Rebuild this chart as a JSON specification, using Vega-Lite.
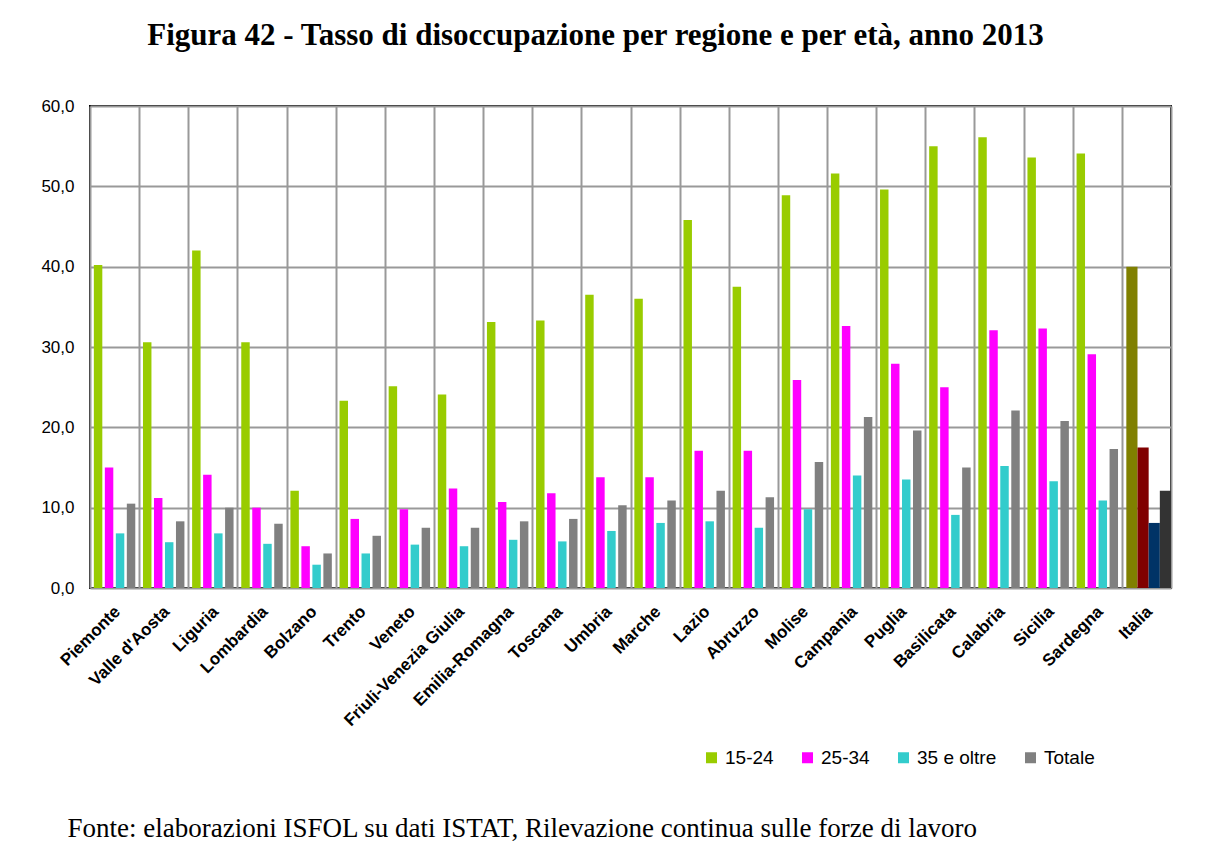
{
  "$schema": "https://vega.github.io/schema/vega-lite/v6.json",
  "width": 1081,
  "height": 482,
  "autosize": "none",
  "padding": {"left": 90, "top": 106, "right": 54, "bottom": 274},
  "background": "white",
  "title": {
    "text": "Figura 42 - Tasso di disoccupazione per regione e per età, anno 2013",
    "font": "Liberation Serif",
    "fontSize": 31,
    "fontWeight": "bold",
    "color": "black",
    "anchor": "middle",
    "dx": -35,
    "offset": 45
  },
  "config": {"view": {"stroke": "black", "strokeWidth": 2}},
  "data": {
    "values": [
      {"r": "Piemonte", "g": "15-24", "v": 40.2}, {"r": "Piemonte", "g": "25-34", "v": 15.0}, {"r": "Piemonte", "g": "35 e oltre", "v": 6.8}, {"r": "Piemonte", "g": "Totale", "v": 10.5},
      {"r": "Valle d'Aosta", "g": "15-24", "v": 30.6}, {"r": "Valle d'Aosta", "g": "25-34", "v": 11.2}, {"r": "Valle d'Aosta", "g": "35 e oltre", "v": 5.7}, {"r": "Valle d'Aosta", "g": "Totale", "v": 8.3},
      {"r": "Liguria", "g": "15-24", "v": 42.0}, {"r": "Liguria", "g": "25-34", "v": 14.1}, {"r": "Liguria", "g": "35 e oltre", "v": 6.8}, {"r": "Liguria", "g": "Totale", "v": 10.0},
      {"r": "Lombardia", "g": "15-24", "v": 30.6}, {"r": "Lombardia", "g": "25-34", "v": 10.0}, {"r": "Lombardia", "g": "35 e oltre", "v": 5.5}, {"r": "Lombardia", "g": "Totale", "v": 8.0},
      {"r": "Bolzano", "g": "15-24", "v": 12.1}, {"r": "Bolzano", "g": "25-34", "v": 5.2}, {"r": "Bolzano", "g": "35 e oltre", "v": 2.9}, {"r": "Bolzano", "g": "Totale", "v": 4.3},
      {"r": "Trento", "g": "15-24", "v": 23.3}, {"r": "Trento", "g": "25-34", "v": 8.6}, {"r": "Trento", "g": "35 e oltre", "v": 4.3}, {"r": "Trento", "g": "Totale", "v": 6.5},
      {"r": "Veneto", "g": "15-24", "v": 25.1}, {"r": "Veneto", "g": "25-34", "v": 9.8}, {"r": "Veneto", "g": "35 e oltre", "v": 5.4}, {"r": "Veneto", "g": "Totale", "v": 7.5},
      {"r": "Friuli-Venezia Giulia", "g": "15-24", "v": 24.1}, {"r": "Friuli-Venezia Giulia", "g": "25-34", "v": 12.4}, {"r": "Friuli-Venezia Giulia", "g": "35 e oltre", "v": 5.2}, {"r": "Friuli-Venezia Giulia", "g": "Totale", "v": 7.5},
      {"r": "Emilia-Romagna", "g": "15-24", "v": 33.1}, {"r": "Emilia-Romagna", "g": "25-34", "v": 10.7}, {"r": "Emilia-Romagna", "g": "35 e oltre", "v": 6.0}, {"r": "Emilia-Romagna", "g": "Totale", "v": 8.3},
      {"r": "Toscana", "g": "15-24", "v": 33.3}, {"r": "Toscana", "g": "25-34", "v": 11.8}, {"r": "Toscana", "g": "35 e oltre", "v": 5.8}, {"r": "Toscana", "g": "Totale", "v": 8.6},
      {"r": "Umbria", "g": "15-24", "v": 36.5}, {"r": "Umbria", "g": "25-34", "v": 13.8}, {"r": "Umbria", "g": "35 e oltre", "v": 7.1}, {"r": "Umbria", "g": "Totale", "v": 10.3},
      {"r": "Marche", "g": "15-24", "v": 36.0}, {"r": "Marche", "g": "25-34", "v": 13.8}, {"r": "Marche", "g": "35 e oltre", "v": 8.1}, {"r": "Marche", "g": "Totale", "v": 10.9},
      {"r": "Lazio", "g": "15-24", "v": 45.8}, {"r": "Lazio", "g": "25-34", "v": 17.1}, {"r": "Lazio", "g": "35 e oltre", "v": 8.3}, {"r": "Lazio", "g": "Totale", "v": 12.1},
      {"r": "Abruzzo", "g": "15-24", "v": 37.5}, {"r": "Abruzzo", "g": "25-34", "v": 17.1}, {"r": "Abruzzo", "g": "35 e oltre", "v": 7.5}, {"r": "Abruzzo", "g": "Totale", "v": 11.3},
      {"r": "Molise", "g": "15-24", "v": 48.9}, {"r": "Molise", "g": "25-34", "v": 25.9}, {"r": "Molise", "g": "35 e oltre", "v": 9.8}, {"r": "Molise", "g": "Totale", "v": 15.7},
      {"r": "Campania", "g": "15-24", "v": 51.6}, {"r": "Campania", "g": "25-34", "v": 32.6}, {"r": "Campania", "g": "35 e oltre", "v": 14.0}, {"r": "Campania", "g": "Totale", "v": 21.3},
      {"r": "Puglia", "g": "15-24", "v": 49.6}, {"r": "Puglia", "g": "25-34", "v": 27.9}, {"r": "Puglia", "g": "35 e oltre", "v": 13.5}, {"r": "Puglia", "g": "Totale", "v": 19.6},
      {"r": "Basilicata", "g": "15-24", "v": 55.0}, {"r": "Basilicata", "g": "25-34", "v": 25.0}, {"r": "Basilicata", "g": "35 e oltre", "v": 9.1}, {"r": "Basilicata", "g": "Totale", "v": 15.0},
      {"r": "Calabria", "g": "15-24", "v": 56.1}, {"r": "Calabria", "g": "25-34", "v": 32.1}, {"r": "Calabria", "g": "35 e oltre", "v": 15.2}, {"r": "Calabria", "g": "Totale", "v": 22.1},
      {"r": "Sicilia", "g": "15-24", "v": 53.6}, {"r": "Sicilia", "g": "25-34", "v": 32.3}, {"r": "Sicilia", "g": "35 e oltre", "v": 13.3}, {"r": "Sicilia", "g": "Totale", "v": 20.8},
      {"r": "Sardegna", "g": "15-24", "v": 54.1}, {"r": "Sardegna", "g": "25-34", "v": 29.1}, {"r": "Sardegna", "g": "35 e oltre", "v": 10.9}, {"r": "Sardegna", "g": "Totale", "v": 17.3},
      {"r": "Italia", "g": "15-24", "v": 40.0}, {"r": "Italia", "g": "25-34", "v": 17.5}, {"r": "Italia", "g": "35 e oltre", "v": 8.1}, {"r": "Italia", "g": "Totale", "v": 12.1}
    ]
  },
  "encoding": {
    "x": {
      "field": "r",
      "type": "nominal",
      "sort": null,
      "scale": {
        "domain": ["Piemonte", "Valle d'Aosta", "Liguria", "Lombardia", "Bolzano", "Trento", "Veneto", "Friuli-Venezia Giulia", "Emilia-Romagna", "Toscana", "Umbria", "Marche", "Lazio", "Abruzzo", "Molise", "Campania", "Puglia", "Basilicata", "Calabria", "Sicilia", "Sardegna", "Italia"],
        "paddingInner": 0,
        "paddingOuter": 0
      },
      "axis": {
        "title": "Fonte: elaborazioni ISFOL su dati ISTAT, Rilevazione continua sulle forze di lavoro",
        "titleFont": "Liberation Serif",
        "titleFontSize": 27,
        "titleFontWeight": "normal",
        "titleColor": "black",
        "titleX": -23,
        "titleY": 248,
        "titleAlign": "left",
        "titleAnchor": "start",
        "titleBaseline": "alphabetic",
        "labelAngle": -45,
        "labelFont": "Liberation Sans",
        "labelFontSize": 17,
        "labelFontWeight": "bold",
        "labelColor": "black",
        "labelPadding": 15,
        "labelOffset": -3,
        "ticks": false,
        "domain": false,
        "grid": true,
        "tickBand": "extent",
        "gridColor": "#999999",
        "gridWidth": 2
      }
    },
    "y": {
      "field": "v",
      "type": "quantitative",
      "scale": {"domain": [0, 60], "nice": false},
      "axis": {
        "title": null,
        "values": [0, 10, 20, 30, 40, 50, 60],
        "labelExpr": "replace(format(datum.value, '.1f'), '.', ',')",
        "labelFont": "Liberation Sans",
        "labelFontSize": 17,
        "labelColor": "black",
        "labelPadding": 16,
        "ticks": false,
        "domain": false,
        "grid": true,
        "gridColor": "#999999",
        "gridWidth": 2
      }
    }
  },
  "layer": [
    {
      "transform": [{"filter": "datum.r !== 'Italia'"}],
      "mark": {"type": "bar"},
      "encoding": {
        "xOffset": {"field": "g", "type": "nominal", "scale": {"paddingInner": 0.23, "paddingOuter": 0.35}},
        "color": {
          "field": "g",
          "type": "nominal",
          "scale": {"domain": ["15-24", "25-34", "35 e oltre", "Totale"], "range": ["#99CC00", "#FF00FF", "#33CCCC", "#808080"]},
          "legend": {
            "title": null,
            "orient": "none",
            "legendX": 612,
            "legendY": 642,
            "direction": "horizontal",
            "symbolType": "square",
            "symbolSize": 121,
            "symbolStrokeWidth": 0,
            "labelFont": "Liberation Sans",
            "labelFontSize": 19,
            "labelColor": "black",
            "columnPadding": 24,
            "labelOffset": 4
          }
        }
      }
    },
    {
      "transform": [{"filter": "datum.r === 'Italia'"}],
      "mark": {"type": "bar"},
      "encoding": {
        "xOffset": {"field": "g", "type": "nominal", "scale": {"paddingInner": 0, "paddingOuter": 0.2, "align": 1}},
        "color": {
          "field": "g",
          "type": "nominal",
          "scale": {"domain": ["15-24", "25-34", "35 e oltre", "Totale"], "range": ["#808000", "#800000", "#003366", "#333333"]},
          "legend": null
        }
      }
    }
  ],
  "resolve": {"scale": {"xOffset": "independent", "color": "independent"}}
}
